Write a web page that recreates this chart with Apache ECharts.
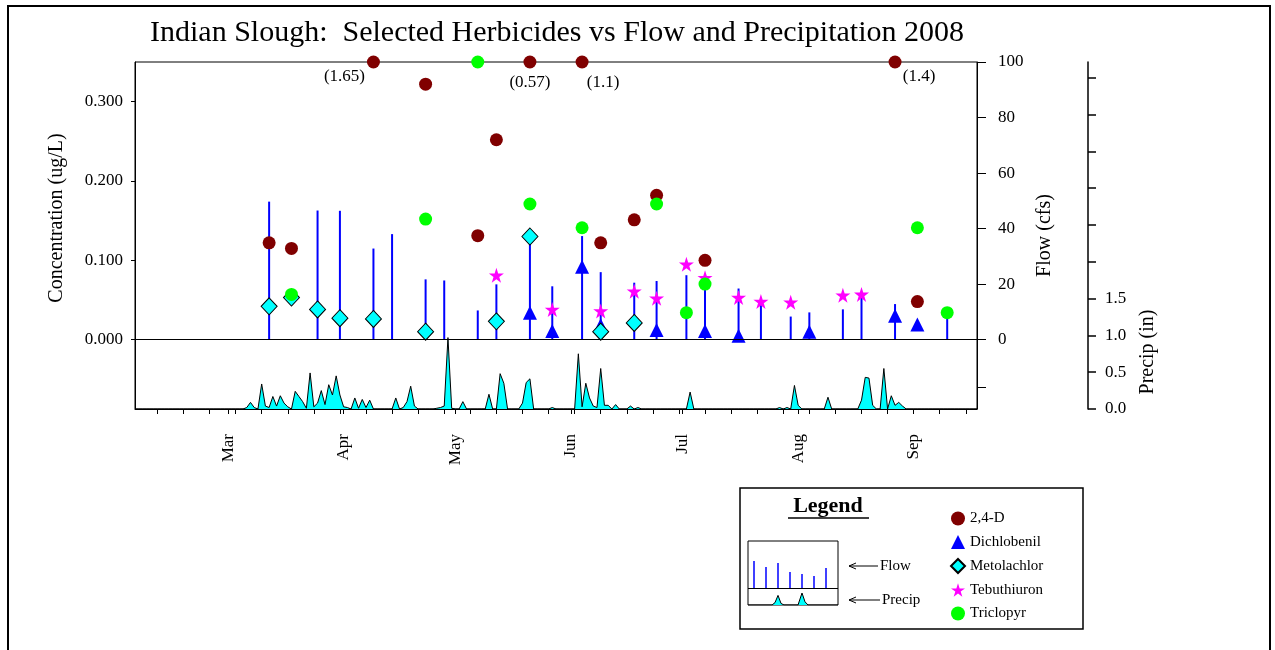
<!DOCTYPE html>
<html><head><meta charset="utf-8">
<script src="https://cdn.jsdelivr.net/npm/echarts@6/dist/echarts.min.js"></script>
<style>html,body{margin:0;padding:0;background:#fff}#c{width:1275px;height:650px}</style>
</head><body><div id="c"></div>
<script>
// x values: day of year 2008 (Jan 1 = 1)
const monthDays = [61, 92, 122, 153, 183, 214, 245];
const monthNames = ['Mar', 'Apr', 'May', 'Jun', 'Jul', 'Aug', 'Sep'];
const weekTickDays = [42,49,56,63,70,77,84,91,98,105,112,119,126,133,140,147,154,161,168,175,182,189,196,203,210,217,224,231,238,245,252,259];
const concTicks = [0, 0.1, 0.2, 0.3];
const flowTicks = [0, 20, 40, 60, 80, 100];
const precipLabelTicks = [0, 0.5, 1.0, 1.5];
const precipTicks = [0, 0.5, 1.0, 1.5, 2.0, 2.5, 3.0, 3.5, 4.0, 4.5];

// Flow (cfs) on sample days
const flowDays = [72,85,91,100,105,114,119,128,133,142,148,156,161,170,176,184,189,198,204,212,217,226,231,240,254];
const flowVals = [49.7,46.5,46.4,32.8,38.0,21.7,21.3,10.5,19.9,37.0,19.2,37.3,24.3,20.5,21.1,23.2,21.7,18.4,13.3,8.3,9.8,10.9,15.7,12.8,9.1];

// Herbicide concentrations (ug/L)
const d24Days = [72,78,100,114,128,133,142,156,161,170,176,189,240,246];
const d24Vals = [0.122,0.115,1.65,0.322,0.131,0.252,0.57,1.1,0.122,0.151,0.182,0.100,1.4,0.048];
const dichDays = [142,148,156,161,176,189,198,217,240,246];
const dichVals = [0.034,0.011,0.092,0.018,0.012,0.011,0.005,0.010,0.030,0.019];
const metoDays = [72,78,85,91,100,114,133,142,161,170];
const metoVals = [0.042,0.053,0.038,0.027,0.026,0.010,0.023,0.130,0.010,0.021];
const tebuDays = [133,148,161,170,176,184,189,198,204,212,226,231];
const tebuVals = [0.081,0.038,0.036,0.061,0.052,0.095,0.078,0.053,0.048,0.047,0.056,0.057];
const tricDays = [78,114,128,142,156,176,184,189,246,254];
const tricVals = [0.057,0.152,0.35,0.171,0.141,0.171,0.034,0.070,0.141,0.034];

// Daily precipitation (in); days not listed had none
const precipDays = [66,67,68,70,71,72,73,74,75,76,77,79,80,81,82,83,84,85,86,87,88,89,90,91,92,93,95,96,97,98,99,106,108,109,110,111,117,118,119,120,121,124,131,134,135,140,141,142,148,155,156,157,158,159,160,161,162,163,165,169,171,185,209,211,213,214,222,231,232,233,234,237,239,240,241,242];
const precipVals = [0.02,0.09,0.02,0.34,0.04,0.02,0.17,0.04,0.18,0.08,0.03,0.24,0.17,0.10,0.01,0.49,0.03,0.08,0.25,0.06,0.33,0.19,0.45,0.19,0.03,0.02,0.15,0.01,0.13,0.02,0.12,0.15,0.02,0.10,0.31,0.04,0.01,0.02,0.04,0.97,0.01,0.10,0.20,0.48,0.35,0.08,0.36,0.41,0.02,0.75,0.03,0.35,0.15,0.04,0.02,0.55,0.05,0.05,0.06,0.04,0.02,0.23,0.02,0.02,0.32,0.05,0.16,0.12,0.43,0.42,0.05,0.55,0.18,0.05,0.09,0.04];

// Legend inset illustration
const insetFlowX = [6,18,30,42,54,66,78];
const insetFlowH = [27,21,25,16,14,12,20];
const insetPrecipX = [0,24,27,30,33,36,50,54,57,60,90];
const insetPrecipV = [0,0,0.15,0.6,0.1,0,0,0.75,0.2,0,0];

const X_MIN = 36, X_MAX = 262;
const CONC_MAX = 0.35;
const FONT = 'Liberation Serif';
const labelOffsets = {100: [-29, -5], 142: [0, 1], 156: [21, 1], 240: [24, -5]};

const precipDaily = [];
for (let d = X_MIN; d <= X_MAX; d++) {
  const i = precipDays.indexOf(d);
  precipDaily.push([d, i >= 0 ? precipVals[i] : 0]);
}
function pts(days, vals) {
  return days.map((d, i) => {
    const v = vals[i];
    const item = {value: [d, Math.min(v, CONC_MAX)]};
    if (v > CONC_MAX) {
      item.label = {show: true, position: 'bottom', formatter: '(' + v + ')', offset: labelOffsets[d] || [0, 0],
        fontFamily: FONT, fontSize: 17, color: '#000', opacity: 1};
    }
    return item;
  });
}
const starPath = 'path://M50,0 L61.2,34.5 L97.6,34.5 L68.2,55.9 L79.4,90.5 L50,69.1 L20.6,90.5 L31.8,55.9 L2.4,34.5 L38.8,34.5 Z';
const monthMap = {};
monthDays.forEach((d, i) => monthMap[d] = monthNames[i]);

const chart = echarts.init(document.getElementById('c'));
const black = '#000';
chart.setOption({
  animation: false,
  backgroundColor: '#fff',
  title: {
    text: 'Indian Slough:  Selected Herbicides vs Flow and Precipitation 2008',
    left: 552, top: 13, textAlign: 'center',
    textStyle: {fontFamily: FONT, fontSize: 30, fontWeight: 'normal', color: black}
  },
  legend: {
    data: ['2,4-D', 'Dichlobenil', 'Metolachlor', 'Tebuthiuron', 'Triclopyr'],
    orient: 'vertical', left: 945, top: 506, itemWidth: 14, itemHeight: 14, itemGap: 8.5,
    selectedMode: false,
    textStyle: {fontFamily: FONT, fontSize: 15, color: black}
  },
  grid: [
    {left: 135, top: 62, width: 842, height: 347, show: true, borderColor: black, borderWidth: 1, backgroundColor: 'transparent'},
    {left: 748, top: 541, width: 90, height: 64, show: true, borderColor: black, borderWidth: 1, backgroundColor: 'transparent'}
  ],
  xAxis: [
    {
      gridIndex: 0, type: 'value', min: X_MIN, max: X_MAX, position: 'bottom',
      axisLine: {show: true, onZero: false, lineStyle: {color: black, width: 1}},
      axisTick: {show: true, length: 5, customValues: weekTickDays.concat(monthDays), lineStyle: {color: black}},
      axisLabel: {show: true, customValues: monthDays, rotate: 90, margin: 25, formatter: v => monthMap[v] || '',
        fontFamily: FONT, fontSize: 17, color: black},
      splitLine: {show: false}
    },
    {gridIndex: 1, type: 'value', min: 0, max: 90, show: false}
  ],
  yAxis: [
    {
      gridIndex: 0, type: 'value', position: 'left', min: -0.0875, max: CONC_MAX,
      axisLine: {show: true, onZero: false, lineStyle: {color: black}},
      axisTick: {show: true, length: 4, customValues: concTicks, lineStyle: {color: black}},
      axisLabel: {customValues: concTicks, formatter: v => v.toFixed(3), margin: 12, fontFamily: FONT, fontSize: 17, color: black},
      splitLine: {show: false}
    },
    {
      gridIndex: 0, type: 'value', position: 'right', offset: 0, min: -25, max: 100,
      name: 'Flow (cfs)', nameLocation: 'middle', nameGap: 56,
      nameTextStyle: {fontFamily: FONT, fontSize: 20, color: black},
      axisLine: {show: true, onZero: false, lineStyle: {color: black}},
      axisTick: {show: true, length: 9, customValues: [-17].concat(flowTicks), lineStyle: {color: black}},
      axisLabel: {customValues: flowTicks, margin: 21, fontFamily: FONT, fontSize: 17, color: black},
      splitLine: {show: false}
    },
    {
      gridIndex: 0, type: 'value', position: 'right', offset: 111, min: 0, max: 4.714,
      axisLine: {show: true, onZero: false, lineStyle: {color: black, width: 1.5}},
      axisTick: {show: true, length: 8, customValues: precipTicks, lineStyle: {color: black, width: 1.5}},
      axisLabel: {customValues: precipLabelTicks, formatter: v => v.toFixed(1), margin: 17, fontFamily: FONT, fontSize: 17, color: black},
      splitLine: {show: false}
    },
    {gridIndex: 1, type: 'value', min: -17, max: 47, show: false},
    {gridIndex: 1, type: 'value', min: 0, max: 4, show: false}
  ],
  series: [
    {
      name: 'Precip', type: 'line', xAxisIndex: 0, yAxisIndex: 2, data: precipDaily, z: 1,
      showSymbol: false, symbol: 'none', lineStyle: {color: black, width: 1},
      areaStyle: {color: '#00ffff', opacity: 1}, silent: true
    },
    {
      name: 'Flow', type: 'bar', xAxisIndex: 0, yAxisIndex: 1, z: 2, barWidth: 2,
      data: flowDays.map((d, i) => [d, flowVals[i]]),
      itemStyle: {color: '#0000ff', opacity: 1}, silent: true,
      markLine: {silent: true, symbol: ['none', 'none'], label: {show: false},
        lineStyle: {color: black, width: 1, type: 'solid'}, data: [{yAxis: 0}]}
    },
    {
      name: 'Dichlobenil', type: 'scatter', xAxisIndex: 0, yAxisIndex: 0, z: 3, clip: false,
      symbol: 'triangle', symbolSize: 14, itemStyle: {color: '#0000ff', opacity: 1},
      data: pts(dichDays, dichVals)
    },
    {
      name: 'Tebuthiuron', type: 'scatter', xAxisIndex: 0, yAxisIndex: 0, z: 3, clip: false,
      symbol: starPath, symbolSize: 15, itemStyle: {color: '#ff00ff', opacity: 1},
      data: pts(tebuDays, tebuVals)
    },
    {
      name: 'Metolachlor', type: 'scatter', xAxisIndex: 0, yAxisIndex: 0, z: 4, clip: false,
      symbol: 'diamond', symbolSize: [16, 17], itemStyle: {color: '#00ffff', borderColor: black, borderWidth: 1, opacity: 1},
      data: pts(metoDays, metoVals)
    },
    {
      name: '2,4-D', type: 'scatter', xAxisIndex: 0, yAxisIndex: 0, z: 5, clip: false,
      symbol: 'circle', symbolSize: 13, itemStyle: {color: '#800000', opacity: 1},
      data: pts(d24Days, d24Vals)
    },
    {
      name: 'Triclopyr', type: 'scatter', xAxisIndex: 0, yAxisIndex: 0, z: 6, clip: false,
      symbol: 'circle', symbolSize: 13, itemStyle: {color: '#00ff00', opacity: 1},
      data: pts(tricDays, tricVals)
    },
    {
      name: 'insetFlow', type: 'bar', xAxisIndex: 1, yAxisIndex: 3, barWidth: 1.5, silent: true,
      data: insetFlowX.map((x, i) => [x, insetFlowH[i]]), itemStyle: {color: '#0000ff'},
      markLine: {silent: true, symbol: ['none', 'none'], label: {show: false},
        lineStyle: {color: black, width: 1, type: 'solid'}, data: [{yAxis: 0}]}
    },
    {
      name: 'insetPrecip', type: 'line', xAxisIndex: 1, yAxisIndex: 4, silent: true,
      showSymbol: false, symbol: 'none', lineStyle: {color: black, width: 1},
      areaStyle: {color: '#00ffff', opacity: 1},
      data: insetPrecipX.map((x, i) => [x, insetPrecipV[i]])
    }
  ],
  graphic: [
    {type: 'rect', shape: {x: 8, y: 6, width: 1262, height: 700}, style: {fill: 'none', stroke: black, lineWidth: 2}, silent: true},
    {type: 'rect', shape: {x: 740, y: 488, width: 343, height: 141}, style: {fill: 'none', stroke: black, lineWidth: 1.5}, silent: true},
    {type: 'text', x: 828, y: 506, style: {text: 'Legend', font: 'bold 22px "Liberation Serif"', fill: black, align: 'center', verticalAlign: 'middle'}},
    {type: 'line', shape: {x1: 788, y1: 518, x2: 869, y2: 518}, style: {stroke: black, lineWidth: 1.5}},
    {type: 'line', shape: {x1: 849, y1: 566, x2: 878, y2: 566}, style: {stroke: black, lineWidth: 1}},
    {type: 'polyline', shape: {points: [[856, 563], [849, 566], [856, 569]]}, style: {stroke: black, fill: 'none', lineWidth: 1}},
    {type: 'text', x: 880, y: 566, style: {text: 'Flow', font: '15px "Liberation Serif"', fill: black, align: 'left', verticalAlign: 'middle'}},
    {type: 'line', shape: {x1: 849, y1: 600, x2: 880, y2: 600}, style: {stroke: black, lineWidth: 1}},
    {type: 'polyline', shape: {points: [[856, 597], [849, 600], [856, 603]]}, style: {stroke: black, fill: 'none', lineWidth: 1}},
    {type: 'text', x: 882, y: 600, style: {text: 'Precip', font: '15px "Liberation Serif"', fill: black, align: 'left', verticalAlign: 'middle'}},
    {type: 'text', x: 57, y: 218, rotation: Math.PI / 2, style: {text: 'Concentration (ug/L)', font: '20px "Liberation Serif"', fill: black, align: 'center', verticalAlign: 'middle'}},
    {type: 'text', x: 1148, y: 352, rotation: Math.PI / 2, style: {text: 'Precip (in)', font: '20px "Liberation Serif"', fill: black, align: 'center', verticalAlign: 'middle'}}
  ]
});
</script>
</body></html>
